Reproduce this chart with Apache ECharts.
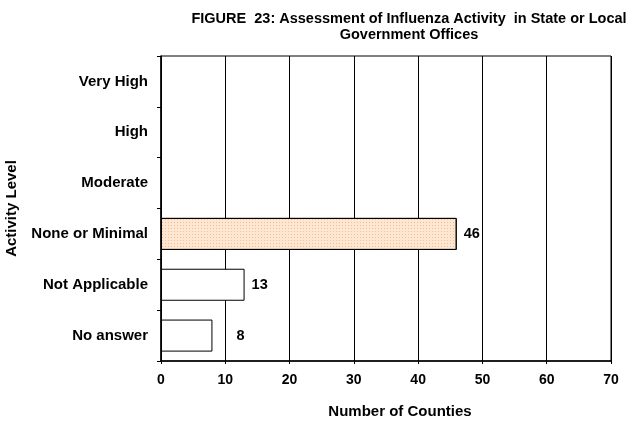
<!DOCTYPE html>
<html><head><meta charset="utf-8">
<script src="https://cdn.jsdelivr.net/npm/echarts@6/dist/echarts.min.js"></script>
<style>html,body{margin:0;padding:0;background:#fff}#c{width:628px;height:422px}</style>
</head><body><div id="c"></div>
<script>
var categories = ['Very High','High','Moderate','None or Minimal','Not Applicable','No answer'];
var counts = [0,0,0,46,13,8];
var xTicks = [0,10,20,30,40,50,60,70];
var titleText = 'FIGURE  23: Assessment of Influenza Activity  in State or Local\nGovernment Offices';

var FONT = '"Liberation Sans", Arial, sans-serif';
var data = counts.map(function(v, i){
  var item = { value: v === 0 ? null : v, itemStyle: { color: '#ffffff' } };
  if (categories[i] === 'None or Minimal') {
    item.itemStyle = { color: '#fde7d3', decal: { symbol: 'rect', symbolSize: 1, color: '#f7bf8e', dashArrayX: [1, 2], dashArrayY: [1, 2], rotation: 0 } };
  }
  if (categories[i] === 'No answer') {
    item.label = { offset: [17, 0] };
  }
  return item;
});
var chart = echarts.init(document.getElementById('c'), null, {renderer: 'canvas'});
chart.setOption({
  animation: false,
  aria: { enabled: false },
  title: { text: titleText, left: 404, textAlign: 'center', top: 6,
    textStyle: { fontFamily: FONT, fontSize: 14.5, fontWeight: 'bold', color: '#000', lineHeight: 16 } },
  grid: { left: 161, right: 17, top: 56, bottom: 61, show: true, borderColor: '#000', borderWidth: 1, backgroundColor: 'transparent', outerBoundsMode: 'none', containLabel: false },
  xAxis: {
    type: 'value', min: xTicks[0], max: xTicks[xTicks.length-1], interval: 10,
    name: 'Number of Counties', nameLocation: 'middle', nameGap: 43,
    nameTextStyle: { fontFamily: FONT, fontSize: 15, fontWeight: 'bold', color: '#000', padding: [0, 0, 0, 28] },
    axisLine: { show: true, lineStyle: { color: '#000', width: 1.5 } },
    axisTick: { show: true, length: 3, lineStyle: { color: '#000' } },
    axisLabel: { fontFamily: FONT, fontSize: 14, fontWeight: 'bold', color: '#000', margin: 12 },
    splitLine: { show: true, lineStyle: { color: '#000', width: 1 } }
  },
  yAxis: {
    type: 'category', data: categories, inverse: true,
    name: 'Activity Level', nameLocation: 'middle', nameGap: 142, nameRotate: 90,
    nameTextStyle: { fontFamily: FONT, fontSize: 15, fontWeight: 'bold', color: '#000' },
    axisLine: { show: true, lineStyle: { color: '#000', width: 1.5 } },
    axisTick: { show: true, length: 4, lineStyle: { color: '#000' } },
    axisLabel: { fontFamily: FONT, fontSize: 15, fontWeight: 'bold', color: '#000', margin: 13 },
    splitLine: { show: false }
  },
  series: [{
    type: 'bar', data: data, barCategoryGap: '37%',
    itemStyle: { borderColor: '#000', borderWidth: 1 },
    label: { show: true, position: 'right', distance: 7,
      fontFamily: FONT, fontSize: 14.5, fontWeight: 'bold', color: '#000' }
  }]
});
</script></body></html>
